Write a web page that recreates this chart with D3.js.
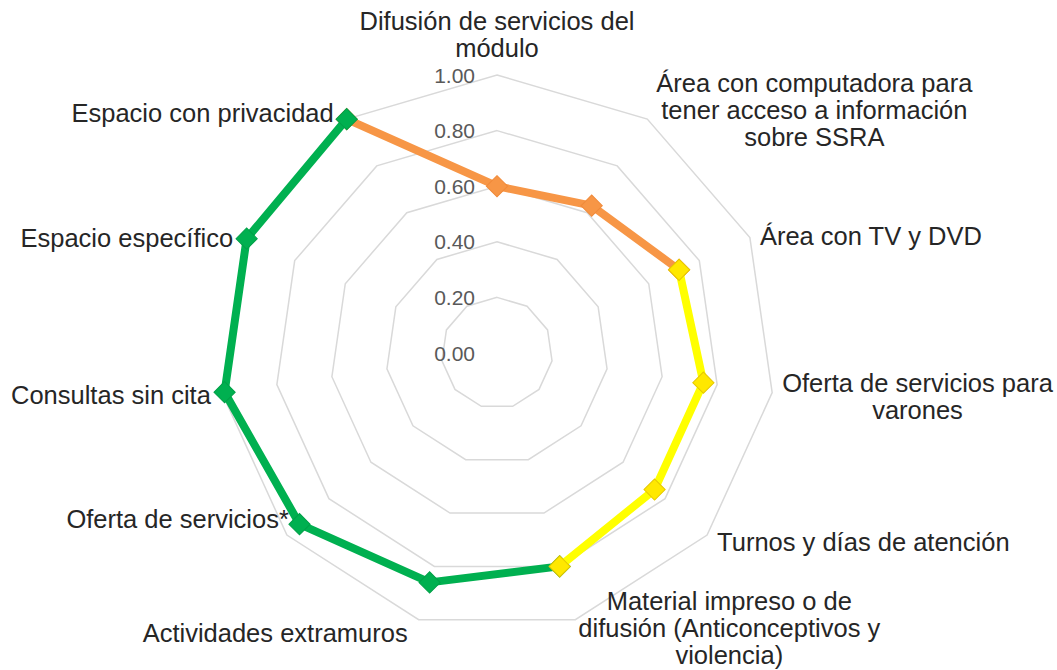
<!DOCTYPE html>
<html>
<head>
<meta charset="utf-8">
<script src="https://cdn.jsdelivr.net/npm/d3@7"></script>
<style>
	body { margin: 0; background: #fff; }
	svg text { font-family: "Liberation Sans", Arial, sans-serif; }
</style>
</head>
<body>
<div id="chart"></div>
<script>

// categories (clockwise from the top), "\n" = wrapped line
var categories = [
	"Difusión de servicios del\nmódulo",
	"Área con computadora para\ntener acceso a información\nsobre SSRA",
	"Área con TV y DVD",
	"Oferta de servicios para\nvarones",
	"Turnos y días de atención",
	"Material impreso o de\ndifusión (Anticonceptivos y\nviolencia)",
	"Actividades extramuros",
	"Oferta de servicios*",
	"Consultas sin cita",
	"Espacio específico",
	"Espacio con privacidad"
];

var ticks = [0, 0.2, 0.4, 0.6, 0.8, 1.0];

// three series, blank where the series has no point
var orangeValues = [0.60, 0.63, 0.72, null, null, null, null, null, null, null, 1.00];
var greenValues  = [null, null, null, null, null, 0.80, 0.86, 0.94, 0.99, 0.99, 1.00];
var yellowValues = [null, null, 0.72, 0.75, 0.75, 0.80, null, null, null, null, null];

var series = [
	{ name: "orange", values: orangeValues, line: "#F79646", fill: "#F79646", stroke: "#F08a3a" },
	{ name: "green",  values: greenValues,  line: "#00B050", fill: "#00B050", stroke: "#00a048" },
	{ name: "yellow", values: yellowValues, line: "#FFFF00", fill: "#FFE800", stroke: "#E6C800" }
];

/*
 *	LAYOUT
 */
var width = 1057, height = 670;
var cx = 497, cy = 353, R = 278;
var n = categories.length;

// nudges for the category labels [anchor, dx, dy] relative to the outer vertex
var labelLayout = [
	["middle", 0, -41], ["start", 9, -9], ["start", 10, -2], ["start", 10, 4],
	["start", 10, 7], ["start", 3, 8], ["end", -11, 13], ["end", 2, -16],
	["end", -11, 2], ["end", -11, 0], ["end", -13, -6]
];

var rScale = d3.scaleLinear().domain([0, 1]).range([0, R]);

function angle(i) { return i * 2 * Math.PI / n; }
function pt(i, v) {
	var r = rScale(v), a = angle(i);
	return [cx + r * Math.sin(a), cy - r * Math.cos(a)];
}

var svg = d3.select("#chart").append("svg")
	.attr("width", width)
	.attr("height", height);

// grid rings
var g = svg.append("g");
g.selectAll("path.ring")
	.data(ticks.filter(function(t){ return t > 0; })).enter()
	.append("path")
		.attr("class", "ring")
		.attr("d", function(t){
			return d3.line()(d3.range(n).map(function(i){ return pt(i, t); })) + "Z";
		})
		.attr("fill", "none")
		.attr("stroke", "#d9d9d9")
		.attr("stroke-width", 1.5);

// tick labels
g.selectAll("text.tick")
	.data(ticks).enter()
	.append("text")
		.attr("class", "tick")
		.attr("x", cx - 22)
		.attr("y", function(t){ return cy - rScale(t); })
		.attr("text-anchor", "end")
		.attr("dominant-baseline", "central")
		.style("font-size", "21px")
		.style("fill", "#595959")
		.text(function(t){ return d3.format(".2f")(t); });

// series: line segments then markers
var diamond = d3.symbol().type(d3.symbolSquare).size(225);

series.forEach(function(s){
	var segs = [];
	for (var i = 0; i < n; i++) {
		var j = (i + 1) % n;
		if (s.values[i] != null && s.values[j] != null) segs.push([i, j]);
	}
	var sg = svg.append("g").attr("class", "series-" + s.name);
	sg.selectAll("line")
		.data(segs).enter()
		.append("line")
			.attr("x1", function(d){ return pt(d[0], s.values[d[0]])[0]; })
			.attr("y1", function(d){ return pt(d[0], s.values[d[0]])[1]; })
			.attr("x2", function(d){ return pt(d[1], s.values[d[1]])[0]; })
			.attr("y2", function(d){ return pt(d[1], s.values[d[1]])[1]; })
			.attr("stroke", s.line)
			.attr("stroke-width", 8)
			.attr("stroke-linecap", "round");

	var pts = d3.range(n).filter(function(i){ return s.values[i] != null; });
	sg.selectAll("path")
		.data(pts).enter()
		.append("path")
			.attr("d", diamond)
			.attr("fill", s.fill)
			.attr("stroke", s.stroke)
			.attr("stroke-width", 1)
			.attr("transform", function(i){
				var p = pt(i, s.values[i]);
				return "translate(" + p[0] + "," + p[1] + ") rotate(45)";
			});
});

// category labels
var lh = 27;
categories.forEach(function(c, i){
	var lines = c.split("\n");
	var v = pt(i, 1);
	var lay = labelLayout[i];
	var t = svg.append("text")
		.style("font-size", "25.5px")
		.style("fill", "#262626")
		.attr("text-anchor", "middle")
		.attr("dominant-baseline", "central");
	lines.forEach(function(l, k){
		t.append("tspan").text(l);
	});
	var w = 0;
	t.selectAll("tspan").each(function(){ w = Math.max(w, this.getComputedTextLength()); });
	var bx = v[0] + lay[1];
	if (lay[0] == "start") bx += w / 2;
	if (lay[0] == "end") bx -= w / 2;
	var by = v[1] + lay[2];
	t.selectAll("tspan")
		.attr("x", bx)
		.attr("y", function(d, k){ return by + (k - (lines.length - 1) / 2) * lh; });
});

</script>
</body>
</html>
